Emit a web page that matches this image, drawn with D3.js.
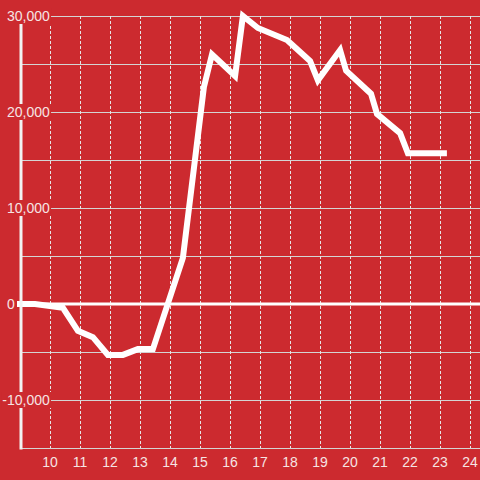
<!DOCTYPE html>
<html>
<head>
    <meta charset="utf-8">
    <script src="https://d3js.org/d3.v7.min.js"></script>
    <style>
        body { margin: 0; background: #cc2a2f; }
        text { font-family: "Liberation Sans", Arial, sans-serif; }
    </style>
</head>
<body>
    <div id="chart">
        <svg width="480" height="480"></svg>
    </div>
    <script>
        // hour of day (decimal) and value
        var hours = [9.0, 9.5, 10.43, 10.93, 11.43, 11.93, 12.43, 12.93, 13.43, 14.43,
            15.13, 15.4, 16.17, 16.43, 16.93, 17.9, 18.67, 18.93, 19.67, 19.87,
            20.7, 20.9, 21.67, 21.93, 23.13];
        var values = [0, 0, -400, -2800, -3450, -5300, -5300, -4700, -4700, 4800,
            22600, 26000, 23750, 30000, 28750, 27500, 25300, 23300, 26450, 24300,
            21900, 19800, 17800, 15700, 15700];
        var xTicks = [10, 11, 12, 13, 14, 15, 16, 17, 18, 19, 20, 21, 22, 23, 24];
        var yTicks = [-15000, -10000, -5000, 0, 5000, 10000, 15000, 20000, 25000, 30000];
        var yLabels = [-10000, 0, 10000, 20000, 30000];

        var bg = "#cc2a2f";
        var svg = d3.select("#chart svg");
        svg.append("rect").attr("width", 480).attr("height", 480).attr("fill", bg);

        var x = d3.scaleLinear().domain([9, 24.3333]).range([20, 480]);
        var y = d3.scaleLinear().domain([-15000, 30000]).range([448, 16]);

        // horizontal grid
        svg.selectAll(".hgrid")
            .data(yTicks)
            .enter()
            .append("line")
            .attr("x1", 20)
            .attr("x2", 480)
            .attr("y1", function(d) { return Math.round(y(d)) + 0.5 })
            .attr("y2", function(d) { return Math.round(y(d)) + 0.5 })
            .attr("stroke", "#d4d4d4")
            .attr("stroke-width", 1)

        // vertical dashed grid
        svg.selectAll(".vgrid")
            .data(xTicks)
            .enter()
            .append("line")
            .attr("x1", function(d) { return Math.round(x(d)) + 0.5 })
            .attr("x2", function(d) { return Math.round(x(d)) + 0.5 })
            .attr("y1", 16)
            .attr("y2", 448)
            .attr("stroke", "#e6e6e6")
            .attr("stroke-width", 1)
            .attr("stroke-dasharray", "3,2")

        // zero line
        svg.append("line")
            .attr("x1", 20).attr("x2", 480)
            .attr("y1", y(0)).attr("y2", y(0))
            .attr("stroke", "#ffffff")
            .attr("stroke-width", 3)

        // data line
        var line = d3.line()
            .x(function(d, i) { return x(hours[i]) })
            .y(function(d, i) { return y(values[i]) });
        svg.append("path")
            .attr("d", line(values))
            .attr("fill", "none")
            .attr("stroke", "#ffffff")
            .attr("stroke-width", 6)
            .attr("stroke-linecap", "square")

        // y axis line
        svg.append("line")
            .attr("x1", 21).attr("x2", 21)
            .attr("y1", 16).attr("y2", 449.5)
            .attr("stroke", "#f2f2f2")
            .attr("stroke-width", 3)

        // y labels with background, digits start at x=7, minus hangs left
        var fmt = d3.format(",");
        var yl = svg.selectAll(".ylab")
            .data(yLabels)
            .enter()
            .append("g")
            .attr("transform", function(d) { return "translate(7," + y(d) + ")" });
        yl.append("text")
            .attr("dy", "0.35em")
            .attr("font-size", 14)
            .attr("fill", "#f6e4e4")
            .text(function(d) { return fmt(d).replace("−", "-") })
            .each(function(d) {
                var t = d3.select(this);
                if (d < 0) {
                    var m = svg.append("text").attr("font-size", 14).text("-");
                    var w = m.node().getComputedTextLength();
                    m.remove();
                    t.attr("x", -w);
                }
                var b = this.getBBox();
                d3.select(this.parentNode).insert("rect", "text")
                    .attr("x", b.x - 1)
                    .attr("y", -8)
                    .attr("width", b.width + 2)
                    .attr("height", 16)
                    .attr("fill", bg)
            })

        // x labels
        svg.selectAll(".xlab")
            .data(xTicks)
            .enter()
            .append("text")
            .attr("x", function(d) { return x(d) })
            .attr("y", 467)
            .attr("text-anchor", "middle")
            .attr("font-size", 14)
            .attr("fill", "#f6e4e4")
            .text(function(d) { return d })
    </script>
</body>
</html>
